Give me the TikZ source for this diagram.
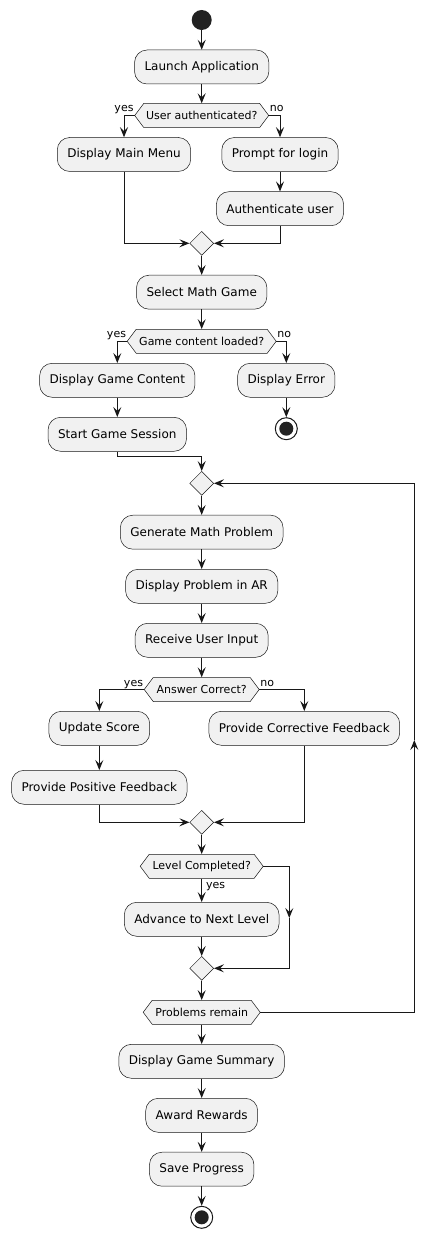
\documentclass[tikz,border=0pt]{standalone}
\usepackage{fontspec}
\setmainfont{DejaVu Sans}
\usetikzlibrary{arrows.meta,shapes.geometric}
\definecolor{boxfill}{HTML}{F1F1F1}
\definecolor{linecol}{HTML}{181818}
\definecolor{dotcol}{HTML}{222222}
\newcommand\hexnode[5]{% name, x, y, half width, text
  \coordinate (#1w) at (#2-#4,#3);
  \coordinate (#1e) at (#2+#4,#3);
  \draw[hexshape] (#1w) -- (#2-#4+9,#3-12) -- (#2+#4-9,#3-12) -- (#1e) -- (#2+#4-9,#3+12) -- (#2-#4+9,#3+12) -- cycle;
  \node[hexlbl, minimum width=2*#4-18] (#1) at (#2,#3) {#5};
}
\begin{document}
\begin{tikzpicture}[x=1pt,y=-1pt,
  >={Stealth[length=10pt,width=8pt,inset=4pt]},
  act/.style={rectangle, rounded corners=12.5pt, draw=linecol, line width=0.5pt, fill=boxfill,
    minimum height=34pt, inner xsep=10pt, inner ysep=0pt, font=\fontsize{12}{14}\selectfont},
  hexshape/.style={draw=linecol, line width=0.5pt, fill=boxfill},
  hexlbl/.style={rectangle, minimum height=24pt, inner sep=0pt, font=\fontsize{11}{13}\selectfont},
  merge/.style={diamond, aspect=1, draw=linecol, line width=0.5pt, fill=boxfill, minimum width=24pt, minimum height=24pt, inner sep=0pt},
  startnode/.style={circle, fill=dotcol, minimum size=20pt, inner sep=0pt},
  endnode/.style={circle, draw=linecol, line width=1pt, fill=white, minimum size=22pt, inner sep=0pt,
    path picture={\fill[dotcol] (path picture bounding box.center) circle (7pt);}},
  flow/.style={->, draw=linecol, line width=1pt},
  lbl/.style={font=\fontsize{11}{13}\selectfont, inner sep=1pt},
]
\useasboundingbox[fill=white] (0,0) rectangle (439,1238);

% nodes
\node[startnode] (start) at (201.7,20) {};
\node[act] (a1) at (201.7,67) {Launch Application};
\hexnode{d1}{201.7}{115.5}{67}{User authenticated?}
\node[act] (bmm) at (124,154.5) {Display Main Menu};
\node[act] (bpl) at (280,154.5) {Prompt for login};
\node[act] (bau) at (280,208.7) {Authenticate user};
\node[merge] (m1) at (201.7,243.3) {};
\node[act] (a2) at (201.7,292.2) {Select Math Game};
\hexnode{d2}{201.7}{341.3}{74.5}{Game content loaded?}
\node[act] (bgc) at (117.3,380.3) {Display Game Content};
\node[act] (ber) at (286.3,380.3) {Display Error};
\node[endnode] (e1) at (286.3,428.7) {};
\node[act] (bsg) at (117.3,434.3) {Start Game Session};
\coordinate (c1) at (117.3,456);
\node[merge] (m2) at (201.7,483.3) {};
\node[act] (a3) at (201.7,532.2) {Generate Math Problem};
\node[act] (a4) at (201.7,586.3) {Display Problem in AR};
\node[act] (a5) at (201.7,640.3) {Receive User Input};
\hexnode{d3}{201.7}{689.5}{57.5}{Answer Correct?}
\node[act] (bus) at (99.3,728.3) {Update Score};
\node[act] (bcf) at (304.3,728.3) {Provide Corrective Feedback};
\node[act] (bpf) at (99.3,787.3) {Provide Positive Feedback};
\node[merge] (m3) at (201.7,822.3) {};
\hexnode{d4}{201.7}{866.3}{61.5}{Level Completed?}
\node[act] (ban) at (201.7,919.3) {Advance to Next Level};
\coordinate (c2) at (289.3,918);
\node[merge] (m4) at (201.7,968.3) {};
\hexnode{d5}{201.7}{1012.3}{58.5}{Problems remain}
\node[act] (bgs) at (201.7,1061.3) {Display Game Summary};
\node[act] (bar) at (201.7,1115.3) {Award Rewards};
\node[act] (bsp) at (201.7,1169.2) {Save Progress};
\node[endnode] (e2) at (201.7,1217.3) {};
\coordinate (c3) at (414.3,740);

% labels
\node[lbl, anchor=base east] at ([yshift=3.5pt]d1w) {yes};
\node[lbl, anchor=base west] at ([yshift=3.5pt]d1e) {no};
\node[lbl, anchor=base east] at ([yshift=3.5pt]d2w) {yes};
\node[lbl, anchor=base west] at ([yshift=3.5pt]d2e) {no};
\node[lbl, anchor=base east] at ([yshift=3.5pt]d3w) {yes};
\node[lbl, anchor=base west] at ([yshift=3.5pt]d3e) {no};
\node[lbl, anchor=base west] at (205,888) {yes};

% connectors
\draw[flow] (start) -- (a1);
\draw[flow] (a1) -- (d1);
\draw[flow] (d1w) -| (bmm);
\draw[flow] (d1e) -| (bpl);
\draw[flow] (bpl) -- (bau);
\draw[flow] (bmm) |- (m1);
\draw[flow] (bau) |- (m1);
\draw[flow] (m1) -- (a2);
\draw[flow] (a2) -- (d2);
\draw[flow] (d2w) -| (bgc);
\draw[flow] (d2e) -| (ber);
\draw[flow] (ber) -- (e1);
\draw[flow] (bgc) -- (bsg);
\draw[flow] (bsg) -- (c1) -| (m2);
\draw[flow] (m2) -- (a3);
\draw[flow] (a3) -- (a4);
\draw[flow] (a4) -- (a5);
\draw[flow] (a5) -- (d3);
\draw[flow] (d3w) -| (bus);
\draw[flow] (d3e) -| (bcf);
\draw[flow] (bus) -- (bpf);
\draw[flow] (bpf) |- (m3);
\draw[flow] (bcf) |- (m3);
\draw[flow] (m3) -- (d4);
\draw[flow] (d4) -- (ban);
\draw[flow] (d4e) -| (c2);
\draw[flow] (c2) |- (m4);
\draw[flow] (ban) -- (m4);
\draw[flow] (m4) -- (d5);
\draw[flow] (d5e) -| (c3);
\draw[flow] (c3) |- (m2);
\draw[flow] (d5) -- (bgs);
\draw[flow] (bgs) -- (bar);
\draw[flow] (bar) -- (bsp);
\draw[flow] (bsp) -- (e2);
\end{tikzpicture}
\end{document}
